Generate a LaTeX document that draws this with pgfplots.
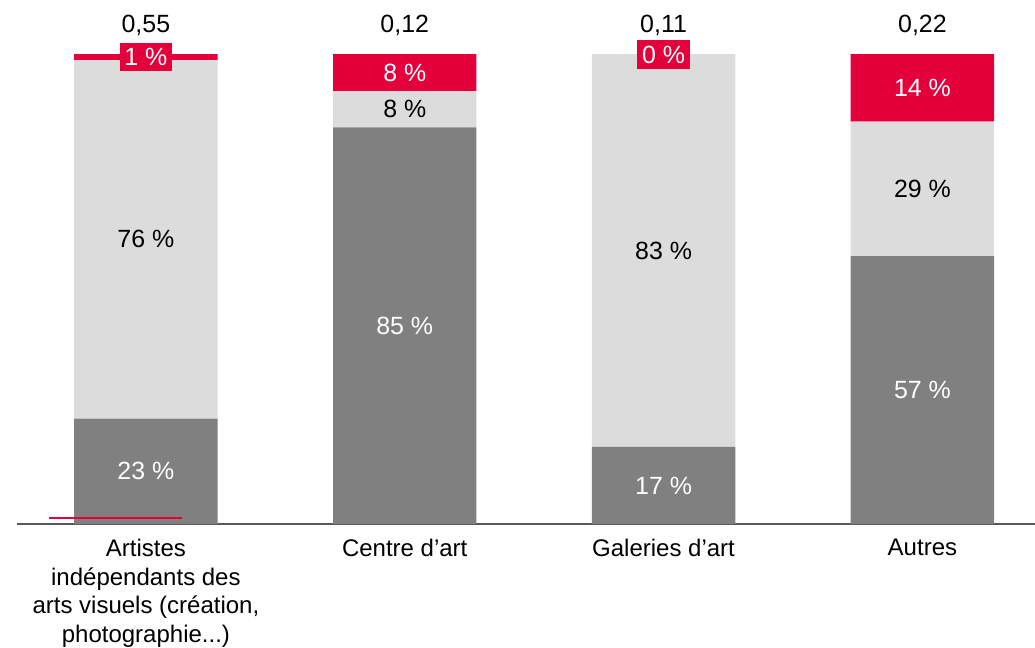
\documentclass[border=0pt]{standalone}
\usepackage{fontspec}
\setmainfont{Liberation Sans}
\usepackage{pgfplots}
\pgfplotsset{compat=1.18}
\definecolor{cred}{RGB}{228,0,58}
\definecolor{cdark}{RGB}{128,128,128}
\definecolor{clight}{RGB}{220,220,220}
\definecolor{caxis}{RGB}{89,89,89}
\begin{document}
\begin{tikzpicture}[font=\fontsize{18.7}{21.75}\selectfont]
\useasboundingbox (-12.75pt,-92.25pt) rectangle (763.5pt,393pt);
\pgfplotsset{common/.style={width=763.5pt, height=352.5pt, scale only axis,
  xmin=-0.498, xmax=3.435, ymin=0, ymax=100, clip=false},
  lbl/.style={draw=none, mark=none, nodes near coords, point meta=explicit symbolic,
  every node near coord/.append style={anchor=center, inner xsep=3.5pt, inner ysep=4pt}}}
\begin{axis}[common, ybar stacked,
  axis x line=bottom, axis y line=none,
  axis line style={-, caxis, line width=1.5pt},
  xtick={0,1,2,3},
  xticklabels={{Artistes\\indépendants des\\arts visuels (création,\\photographie.{}.{}.)}, {Centre d’art}, {Galeries d’art}, {Autres}},
  major tick length=0pt, ytick=\empty,
  xticklabel style={align=center, anchor=north, yshift=-8pt, font=\fontsize{18}{21.4}\selectfont},
  bar width=0.554,
]
\addplot[fill=cdark, draw=none]
  coordinates {(0,22.4) (1,84.4) (2,16.4) (3,57.0)};
\addplot[fill=clight, draw=none]
  coordinates {(0,76.3) (1,7.7) (2,83.6) (3,28.6)};
\addplot[fill=cred, draw=none]
  coordinates {(0,1.3) (1,7.9) (2,0) (3,14.4)};
\end{axis}
\begin{axis}[common, hide axis]
% totals above the bars
\addplot[lbl, every node near coord/.append style={anchor=base, yshift=15.75pt, text=black, inner sep=0pt}]
  coordinates {(0,100)[0,55] (1,100)[0,12] (2,100)[0,11] (3,100)[0,22]};
% labels at the middle of each segment
\addplot[lbl, every node near coord/.append style={text=white}]
  coordinates {(0,11.2)[23 \%] (1,42.2)[85 \%] (2,8.2)[17 \%] (3,28.5)[57 \%]};
\addplot[lbl, every node near coord/.append style={text=black}]
  coordinates {(0,60.55)[76 \%] (1,88.25)[8 \%] (2,58.2)[83 \%] (3,71.3)[29 \%]};
\addplot[lbl, every node near coord/.append style={text=white, fill=cred}]
  coordinates {(0,99.35)[1 \%] (1,96.05)[8 \%] (2,99.9)[0 \%] (3,92.8)[14 \%]};
\addplot[cred, line width=1.5pt, mark=none] coordinates {(-0.375,1.34) (0.139,1.34)};
\end{axis}
\end{tikzpicture}
\end{document}
